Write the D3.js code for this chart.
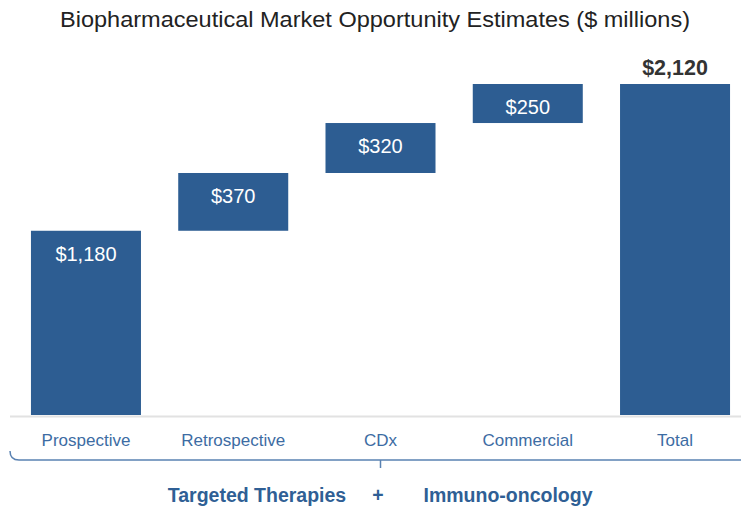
<!DOCTYPE html>
<html>
<head>
<meta charset="utf-8">
<script src="https://cdn.jsdelivr.net/npm/d3@7"></script>
<style>
  body { margin: 0; background: #fff; }
  svg { display: block; font-family: "Liberation Sans", Arial, sans-serif; }
</style>
</head>
<body>
<svg id="chart"></svg>
<script>
// data
const categories = ["Prospective", "Retrospective", "CDx", "Commercial", "Total"];
const values = [1180, 370, 320, 250, 2120];
const valueLabels = ["$1,180", "$370", "$320", "$250", "$2,120"];
const groupLabels = ["Targeted Therapies", "+", "Immuno-oncology"];

const width = 741, height = 508;
const baseY = 415, topY = 84;
const barColor = "#2d5d92", labelColor = "#3d6ca3";

const svg = d3.select("#chart").attr("width", width).attr("height", height);

const x = d3.scaleBand()
    .domain(categories)
    .range([12.4, 748.6])
    .paddingInner(0.253)
    .paddingOuter(0.126);

const y = d3.scaleLinear()
    .domain([0, d3.max(values)])
    .range([baseY, topY]);

// waterfall: each step sits on the running sum, total starts at 0
let running = 0;
const bars = categories.map((c, i) => {
    const isTotal = i === categories.length - 1;
    const start = isTotal ? 0 : running;
    const end = start + values[i];
    if (!isTotal) running = end;
    return { cat: c, start: start, end: end, label: valueLabels[i], isTotal: isTotal };
});

// title
svg.append("text")
    .attr("x", 375).attr("y", 27)
    .attr("text-anchor", "middle")
    .style("font-size", "21.5px")
    .style("fill", "#222")
    .attr("textLength", 630)
    .attr("lengthAdjust", "spacingAndGlyphs")
    .text("Biopharmaceutical Market Opportunity Estimates ($ millions)");

// baseline
svg.append("line")
    .attr("x1", 10).attr("x2", width)
    .attr("y1", baseY + 1.5).attr("y2", baseY + 1.5)
    .attr("stroke", "#e2e2e2").attr("stroke-width", 2);

svg.selectAll("rect.bar")
    .data(bars)
    .join("rect")
    .attr("class", "bar")
    .attr("x", d => x(d.cat))
    .attr("width", x.bandwidth())
    .attr("y", d => y(d.end))
    .attr("height", d => y(d.start) - y(d.end))
    .attr("fill", barColor);

svg.selectAll("text.val")
    .data(bars)
    .join("text")
    .attr("class", "val")
    .attr("x", d => x(d.cat) + x.bandwidth() / 2)
    .attr("y", d => d.isTotal ? y(d.end) - 9 : y(d.end) + 30)
    .attr("text-anchor", "middle")
    .style("font-size", d => d.isTotal ? "21.5px" : "20px")
    .style("font-weight", d => d.isTotal ? "bold" : "normal")
    .style("fill", d => d.isTotal ? "#333" : "#fff")
    .text(d => d.label);

// category labels
svg.selectAll("text.cat")
    .data(categories)
    .join("text")
    .attr("class", "cat")
    .attr("x", d => x(d) + x.bandwidth() / 2)
    .attr("y", 446)
    .attr("text-anchor", "middle")
    .style("font-size", "17px")
    .style("fill", labelColor)
    .text(d => d);

// bracket under the categories
const bx = x(categories[2]) + x.bandwidth() / 2;
svg.append("path")
    .attr("d", `M10,451 Q10,460 19,460 L${width},460 M${bx},460 L${bx},468`)
    .attr("fill", "none")
    .attr("stroke", "#5a82b2")
    .attr("stroke-width", 1.5);

// group text
const groupX = [257, 378, 508];
svg.selectAll("text.grp")
    .data(groupLabels)
    .join("text")
    .attr("class", "grp")
    .attr("x", (d, i) => groupX[i])
    .attr("y", 502)
    .attr("text-anchor", "middle")
    .style("font-size", "19.5px")
    .style("font-weight", "bold")
    .style("fill", "#2f5f95")
    .text(d => d);
</script>
</body>
</html>
